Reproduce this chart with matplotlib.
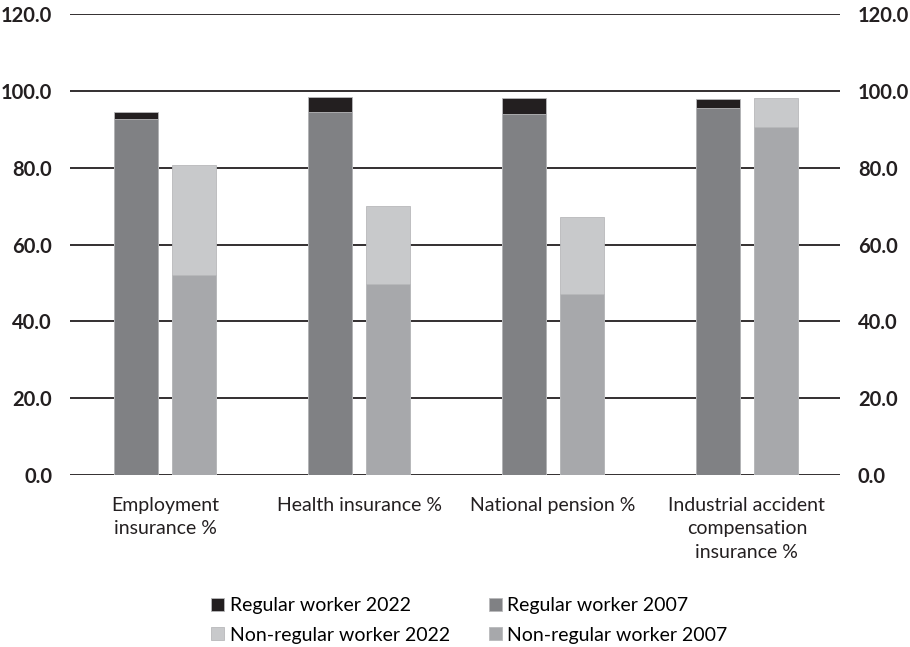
import numpy as np
import matplotlib
matplotlib.use("Agg")
from matplotlib import pyplot as plt

categories = ["Employment\ninsurance %", "Health insurance %", "National pension %",
              "Industrial accident\ncompensation\ninsurance %"]
regular_2022 = [94.5, 98.4, 98.2, 97.8]
regular_2007 = [92.7, 94.5, 94.0, 95.6]
nonregular_2022 = [80.7, 70.0, 67.2, 98.3]
nonregular_2007 = [52.1, 49.6, 47.1, 90.6]
yticks = [0, 20, 40, 60, 80, 100, 120]

plt.rcParams['font.family'] = ['Lato', 'DejaVu Sans']

fig = plt.figure(figsize=(9.1, 6.47), dpi=100)
ax = fig.add_axes([0.077, 0.266, 0.846, 0.712])

x = np.arange(len(categories))
w = 0.227
off = 0.15
edge = dict(edgecolor='#b8b9bb', linewidth=0.6)
ax.bar(x - off, regular_2022, w, color='#231f20', zorder=2, label='Regular worker 2022', **edge)
ax.bar(x - off, regular_2007, w, color='#808184', zorder=3, label='Regular worker 2007', **edge)
ax.bar(x + off, nonregular_2022, w, color='#c8c9cb', zorder=2, label='Non-regular worker 2022', **edge)
ax.bar(x + off, nonregular_2007, w, color='#a7a8ab', zorder=3, label='Non-regular worker 2007', **edge)

ax.set_xlim(-0.49, 3.48)
ax.set_ylim(0, 120)
ax.set_yticks(yticks)
ax.set_yticklabels([f"{v:.1f}" for v in yticks], fontsize=14.5, fontweight='bold', color='#231f20')
ax.grid(axis='y', color='#231f20', linewidth=1.3, zorder=0)
ax.set_axisbelow(True)
for s in ax.spines.values():
    s.set_visible(False)
ax.tick_params(axis='y', length=0, pad=13)
ax.tick_params(axis='x', length=0, pad=16)
ax.set_xticks(x)
ax.set_xticklabels(categories, fontsize=14, color='#231f20', linespacing=1.45, va='top')

ax2 = ax.twinx()
ax2.set_ylim(0, 120)
ax2.set_yticks(yticks)
ax2.set_yticklabels([f"{v:.1f}" for v in yticks], fontsize=14.5, fontweight='bold', color='#231f20')
ax2.tick_params(axis='y', length=0, pad=13)
for s in ax2.spines.values():
    s.set_visible(False)

h, l = ax.get_legend_handles_labels()
order = [0, 2, 1, 3]
fig.legend([h[i] for i in order], [l[i] for i in order], ncol=2, loc='lower center',
           bbox_to_anchor=(0.516, -0.022), frameon=False, fontsize=14,
           handlelength=0.65, handleheight=0.65, handletextpad=0.3,
           columnspacing=2.0, labelspacing=0.65)

fig.savefig("out.png", dpi=100)
